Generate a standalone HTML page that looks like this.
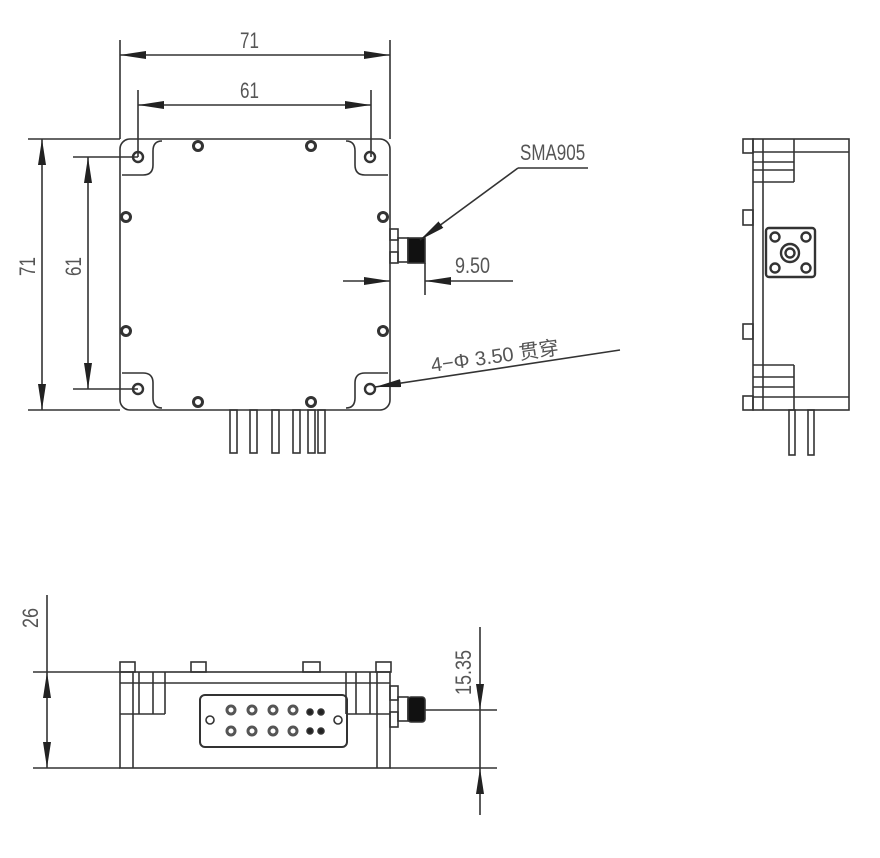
<!DOCTYPE html>
<html><head><meta charset="utf-8"><style>
html,body{margin:0;padding:0;background:#fff;}
svg{display:block;}
text{font-family:"Liberation Sans Narrow","Liberation Sans","Noto Sans CJK SC",sans-serif;fill:#555;font-size:20px;}
</style></head><body>
<svg width="880" height="858" viewBox="0 0 880 858" xmlns="http://www.w3.org/2000/svg">
<defs>
<marker id="a" viewBox="0 0 26 8" refX="26" refY="4" markerWidth="26" markerHeight="8" markerUnits="userSpaceOnUse" orient="auto-start-reverse"><path d="M0,0 L26,4 L0,8z" fill="#222"/></marker>
</defs>
<g stroke="#333" stroke-width="1.6" fill="none">
<!-- TOP VIEW -->
<rect x="120" y="139" width="270" height="271" rx="10"/>
<path d="M162 141 Q153 141 153 151 L153 165 Q153 175 143 175 L122 175"/>
<path d="M346 141 Q355 141 355 151 L355 165 Q355 175 365 175 L388 175"/>
<path d="M162 408 Q153 408 153 398 L153 383 Q153 373 143 373 L122 373"/>
<path d="M346 408 Q355 408 355 398 L355 383 Q355 373 365 373 L388 373"/>
<g stroke-width="2.4">
<circle cx="138" cy="157" r="5"/><circle cx="370" cy="157" r="5"/><circle cx="138" cy="389" r="5"/><circle cx="370" cy="389" r="5"/>
</g>
<g stroke-width="3">
<circle cx="198" cy="146" r="4.5"/><circle cx="311" cy="146" r="4.5"/>
<circle cx="126" cy="217" r="4.5"/><circle cx="126" cy="331" r="4.5"/>
<circle cx="383" cy="217" r="4.5"/><circle cx="383" cy="331" r="4.5"/>
<circle cx="198" cy="402" r="4.5"/><circle cx="311" cy="402" r="4.5"/>
</g>
<rect x="230" y="410" width="7" height="43"/><rect x="250" y="410" width="7" height="43"/><rect x="272" y="410" width="7" height="43"/><rect x="293" y="410" width="7" height="43"/><rect x="308" y="410" width="7" height="43"/><rect x="318" y="410" width="7" height="43"/>
<!-- SMA top -->
<rect x="390" y="229" width="8" height="11"/><rect x="390" y="252" width="8" height="11"/>
<rect x="398" y="238" width="10" height="24"/>
<rect x="408" y="238" width="17" height="25" fill="#111"/>
<line x1="420" y1="240" x2="518" y2="168" marker-start="url(#a)"/>
<line x1="518" y1="168" x2="588" y2="168"/>
<!-- dims top -->
<line x1="120" y1="40" x2="120" y2="139"/><line x1="390" y1="40" x2="390" y2="139"/>
<line x1="120" y1="55" x2="390" y2="55" marker-start="url(#a)" marker-end="url(#a)"/>
<line x1="138" y1="90" x2="138" y2="157"/><line x1="371" y1="90" x2="371" y2="157"/>
<line x1="138" y1="105" x2="371" y2="105" marker-start="url(#a)" marker-end="url(#a)"/>
<line x1="28" y1="139" x2="120" y2="139"/><line x1="28" y1="410" x2="120" y2="410"/>
<line x1="42" y1="139" x2="42" y2="410" marker-start="url(#a)" marker-end="url(#a)"/>
<line x1="73" y1="157" x2="138" y2="157"/><line x1="73" y1="389" x2="138" y2="389"/>
<line x1="88" y1="157" x2="88" y2="389" marker-start="url(#a)" marker-end="url(#a)"/>
<line x1="343" y1="281" x2="390" y2="281" marker-end="url(#a)"/>
<line x1="513" y1="281" x2="425" y2="281" marker-end="url(#a)"/>
<line x1="425" y1="263" x2="425" y2="295"/>
<line x1="620" y1="350" x2="375" y2="387" marker-end="url(#a)"/>
<!-- SIDE VIEW -->
<rect x="753" y="139" width="96" height="271"/>
<line x1="763" y1="139" x2="763" y2="410"/>
<line x1="753" y1="152" x2="849" y2="152"/><line x1="753" y1="397" x2="849" y2="397"/>
<rect x="743" y="139" width="10" height="14"/><rect x="743" y="210" width="10" height="15"/><rect x="743" y="324" width="10" height="15"/><rect x="743" y="396" width="10" height="14"/>
<line x1="794" y1="139" x2="794" y2="182"/><line x1="753" y1="162" x2="794" y2="162"/><line x1="753" y1="170" x2="794" y2="170"/><line x1="753" y1="182" x2="794" y2="182"/>
<line x1="794" y1="365" x2="794" y2="410"/><line x1="753" y1="365" x2="794" y2="365"/><line x1="753" y1="377" x2="794" y2="377"/><line x1="753" y1="387" x2="794" y2="387"/>
<rect x="766" y="228" width="49" height="49" rx="3" stroke-width="2.4"/>
<g stroke-width="2.4"><circle cx="775" cy="237" r="4.5"/><circle cx="806" cy="237" r="4.5"/><circle cx="775" cy="268" r="4.5"/><circle cx="806" cy="268" r="4.5"/><circle cx="790" cy="253" r="9"/><circle cx="790" cy="253" r="4.5"/></g>
<rect x="789" y="410" width="6" height="45"/><rect x="808" y="410" width="6" height="45"/>
<!-- BOTTOM VIEW -->
<rect x="120" y="672" width="270" height="96"/>
<line x1="120" y1="683" x2="390" y2="683"/>
<rect x="120" y="662" width="15" height="10"/><rect x="191" y="662" width="15" height="10"/><rect x="303" y="662" width="17" height="10"/><rect x="376" y="662" width="15" height="10"/>
<line x1="133" y1="672" x2="133" y2="768"/><line x1="377" y1="672" x2="377" y2="768"/>
<line x1="120" y1="714" x2="165" y2="714"/><line x1="139" y1="672" x2="139" y2="714"/><line x1="153" y1="672" x2="153" y2="714"/><line x1="165" y1="672" x2="165" y2="714"/>
<line x1="346" y1="714" x2="390" y2="714"/><line x1="346" y1="672" x2="346" y2="714"/><line x1="356" y1="672" x2="356" y2="714"/><line x1="370" y1="672" x2="370" y2="714"/>
<rect x="200" y="695" width="147" height="52" rx="5" stroke-width="2"/>
<circle cx="210" cy="720" r="4"/><circle cx="338" cy="720" r="4"/>
<g stroke-width="3" stroke="#555">
<circle cx="231" cy="710" r="4"/><circle cx="252" cy="710" r="4"/><circle cx="273" cy="710" r="4"/><circle cx="293" cy="710" r="4"/>
<circle cx="231" cy="731" r="4"/><circle cx="252" cy="731" r="4"/><circle cx="273" cy="731" r="4"/><circle cx="293" cy="731" r="4"/>
</g>
<g fill="#222"><circle cx="310" cy="712" r="3"/><circle cx="321" cy="712" r="3"/><circle cx="310" cy="731" r="3"/><circle cx="321" cy="731" r="3"/></g>
<rect x="390" y="686" width="8" height="14"/><rect x="390" y="712" width="8" height="15"/>
<rect x="398" y="697" width="10" height="24"/>
<rect x="408" y="697" width="17" height="25" rx="3" fill="#111"/>
<line x1="425" y1="710" x2="497" y2="710"/>
<line x1="33" y1="672" x2="120" y2="672"/><line x1="33" y1="768" x2="120" y2="768"/>
<line x1="47" y1="595" x2="47" y2="672"/>
<line x1="47" y1="672" x2="47" y2="768" marker-start="url(#a)" marker-end="url(#a)"/>
<line x1="390" y1="768" x2="497" y2="768"/>
<line x1="480" y1="627" x2="480" y2="710" marker-end="url(#a)"/>
<line x1="480" y1="815" x2="480" y2="768" marker-end="url(#a)"/>
<line x1="480" y1="710" x2="480" y2="768"/>
</g>
<text transform="translate(240,48) scale(0.85,1.1)">71</text>
<text transform="translate(240,98) scale(0.85,1.1)">61</text>
<text transform="translate(35,276) rotate(-90) scale(0.85,1.1)">71</text>
<text transform="translate(81,276) rotate(-90) scale(0.85,1.1)">61</text>
<text transform="translate(520,160) scale(0.85,1.1)">SMA905</text>
<text transform="translate(455,273) scale(0.9,1.1)">9.50</text>
<text transform="translate(432,372) rotate(-8)">4−Φ 3.50 贯穿</text>
<text transform="translate(38,628) rotate(-90) scale(0.9,1.1)">26</text>
<text transform="translate(471,695) rotate(-90) scale(0.9,1.1)">15.35</text>
</svg>
</body></html>
